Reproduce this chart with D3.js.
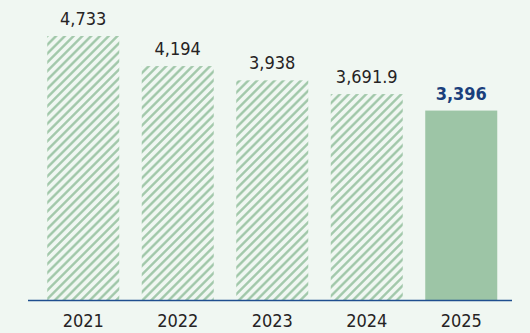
<!DOCTYPE html>
<html>
<head>
<meta charset="utf-8">
<script src="https://cdn.jsdelivr.net/npm/d3@7"></script>
<style>
  html, body { margin: 0; padding: 0; background: #f0f7f2; }
  svg { display: block; }
</style>
</head>
<body>
<div id="chart"></div>
<script>
// ── Data ──────────────────────────────────────────────
const years  = ['2021', '2022', '2023', '2024', '2025'];
const values = [4733, 4194, 3938, 3691.9, 3396];
const labels = ['4,733', '4,194', '3,938', '3,691.9', '3,396'];

// ── Tokens ────────────────────────────────────────────
const C = {
  bg:     '#f0f7f2',
  green:  '#9dc5a6',
  axis:   '#1f4f8f',
  text:   '#262324',
  accent: '#1a3f7c',
};
const FONT = "'DejaVu Sans Condensed', 'Liberation Sans', sans-serif";

const W = 530, H = 333;
const baseY = 300;

const svg = d3.select('#chart').append('svg')
  .attr('width', W).attr('height', H)
  .attr('viewBox', `0 0 ${W} ${H}`);

svg.append('rect').attr('width', W).attr('height', H).attr('fill', C.bg);

// hatch pattern
const defs = svg.append('defs');
const pat = defs.append('pattern')
  .attr('id', 'hatch')
  .attr('patternUnits', 'userSpaceOnUse')
  .attr('width', 6.2).attr('height', 6.2)
  .attr('patternTransform', 'rotate(45)');
pat.append('line')
  .attr('x1', 3.1).attr('y1', 0).attr('x2', 3.1).attr('y2', 6.2)
  .attr('stroke', C.green).attr('stroke-width', 2.3);

// ── Scales ────────────────────────────────────────────
const x = d3.scaleBand()
  .domain(years)
  .range([36, 508.5])
  .paddingInner(0.238)
  .paddingOuter(0.119);

const y = d3.scaleLinear()
  .domain([0, 4733])
  .range([baseY, 36]);

// ── Bars ──────────────────────────────────────────────
const last = years.length - 1;
svg.append('g').selectAll('rect')
  .data(years)
  .join('rect')
  .attr('x', d => x(d))
  .attr('width', x.bandwidth())
  .attr('y', (d, i) => y(values[i]))
  .attr('height', (d, i) => baseY - y(values[i]))
  .attr('fill', (d, i) => i === last ? C.green : 'url(#hatch)');

// ── Value labels ──────────────────────────────────────
svg.append('g').selectAll('text')
  .data(years)
  .join('text')
  .attr('x', d => x(d) + x.bandwidth() / 2)
  .attr('y', (d, i) => y(values[i]) - 11)
  .attr('text-anchor', 'middle')
  .attr('font-family', FONT)
  .attr('font-size', 18)
  .attr('font-weight', (d, i) => i === last ? 'bold' : 'normal')
  .attr('fill', (d, i) => i === last ? C.accent : C.text)
  .text((d, i) => labels[i]);

// ── X axis ────────────────────────────────────────────
const xAxis = svg.append('g')
  .attr('transform', `translate(0,${baseY})`)
  .call(d3.axisBottom(x).tickSize(0).tickPadding(14));
xAxis.select('.domain').remove();
xAxis.selectAll('text')
  .attr('font-family', FONT)
  .attr('font-size', 18)
  .attr('fill', C.text);

svg.append('line')
  .attr('x1', 28).attr('x2', 512)
  .attr('y1', baseY + 0.5).attr('y2', baseY + 0.5)
  .attr('stroke', C.axis).attr('stroke-width', 1.5);
</script>
</body>
</html>
